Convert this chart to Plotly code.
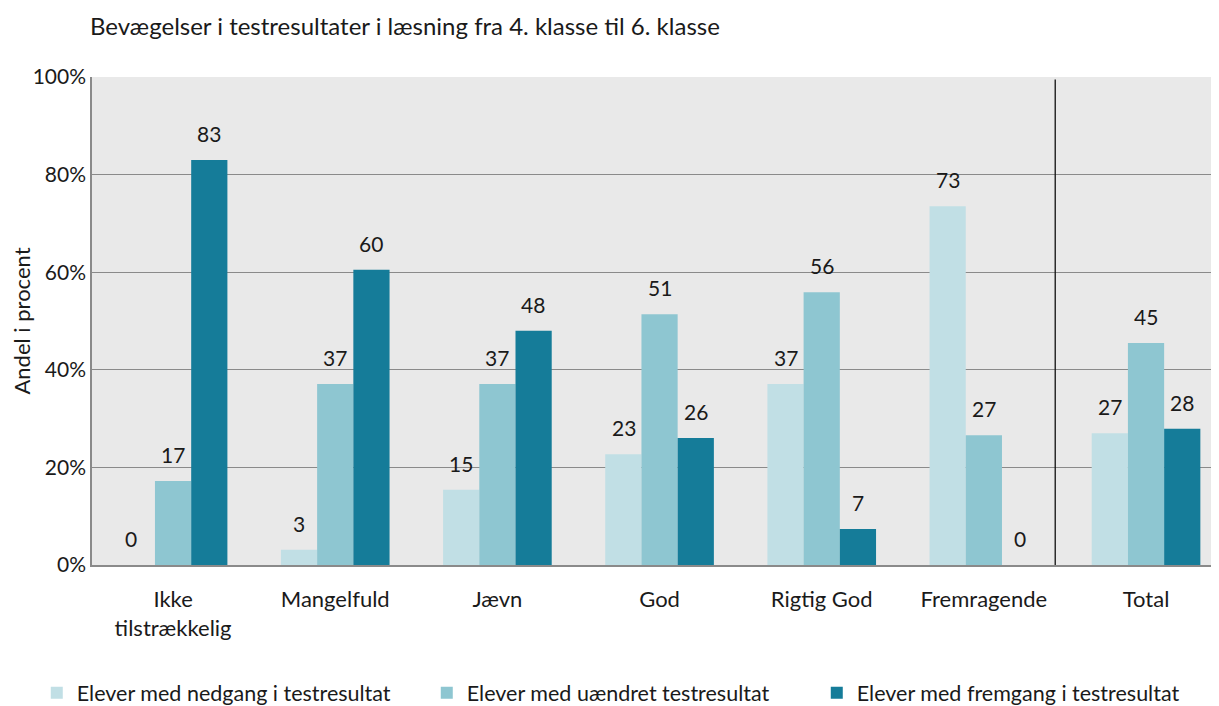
import plotly.graph_objects as go

categories = ["Ikke<br>tilstrækkelig", "Mangelfuld", "Jævn", "God", "Rigtig God", "Fremragende", "Total"]
series_names = ["Elever med nedgang i testresultat", "Elever med uændret testresultat", "Elever med fremgang i testresultat"]
nedgang = [0, 3.1, 15.4, 22.7, 37.1, 73.5, 27.0]
uaendret = [17.2, 37.1, 37.1, 51.4, 55.9, 26.6, 45.5]
fremgang = [83.0, 60.5, 48.0, 26.0, 7.4, 0, 27.9]
nedgang_lbl = ["0", "3", "15", "23", "37", "73", "27"]
uaendret_lbl = ["17", "37", "37", "51", "56", "27", "45"]
fremgang_lbl = ["83", "60", "48", "26", "7", "0", "28"]
y_ticks = [0, 20, 40, 60, 80, 100]
y_ticktext = ["0%", "20%", "40%", "60%", "80%", "100%"]
colors = ["#c1dfe5", "#8ec6d1", "#157c99"]

FONT = "Lato"
W, H = 1211, 698
fig = go.Figure()
all_vals = [nedgang, uaendret, fremgang]
all_lbls = [nedgang_lbl, uaendret_lbl, fremgang_lbl]
for name, vals, col in zip(series_names, all_vals, colors):
    fig.add_trace(go.Bar(x=categories, y=vals, name=name, marker=dict(color=col, line=dict(width=0))))

annotations = []
offsets = [-36, 0, 36]
for vals, lbls, off in zip(all_vals, all_lbls, offsets):
    for c, v, t in zip(categories, vals, lbls):
        annotations.append(dict(x=c, y=v, xref="x", yref="y", text=t, showarrow=False,
                                xshift=off - 6 if t == "0" and off < 0 else off, yanchor="bottom", yshift=12,
                                font=dict(family=FONT, size=21, color="#1a1a1a")))

fig.update_layout(
    width=W, height=H,
    margin=dict(l=84, r=0, t=69, b=141, autoexpand=False),
    paper_bgcolor="white", plot_bgcolor="#e9e9e9",
    barmode="group", bargap=0.33, bargroupgap=0,
    font=dict(family=FONT, size=21, color="#1a1a1a"),
    title=dict(text="Bevægelser i testresultater i læsning fra 4. klasse til 6. klasse",
               x=82/W, xanchor="left", y=1-19/H, yanchor="middle",
               font=dict(family=FONT, size=24, color="#1a1a1a")),
    annotations=annotations,
    showlegend=True,
    legend=dict(orientation="h", x=-0.049, xanchor="left", y=-0.262, yanchor="middle",
                entrywidth=345, font=dict(family=FONT, size=21.5, color="#1a1a1a"),
                traceorder="normal", itemclick=False),
    shapes=[dict(type="line", xref="x", yref="paper", x0=5.44, x1=5.44, y0=0, y1=0.995,
                 line=dict(color="#111111", width=1.3))],
)
fig.update_yaxes(range=[0, 100], tickvals=y_ticks, ticktext=y_ticktext,
                 showgrid=True, gridcolor="#8a8a8a", gridwidth=1, zeroline=False,
                 showline=True, linecolor="#8a8a8a", linewidth=1.5, ticks="",
                 title=dict(text="Andel i procent", font=dict(family=FONT, size=22), standoff=2),
                 tickfont=dict(family=FONT, size=21))
fig.update_xaxes(showline=True, linecolor="#8a8a8a", linewidth=1.5, ticks="outside",
                 ticklen=14, tickcolor="rgba(0,0,0,0)",
                 tickfont=dict(family=FONT, size=22), range=[-0.5, 6.45])
fig.write_html("out.html")
